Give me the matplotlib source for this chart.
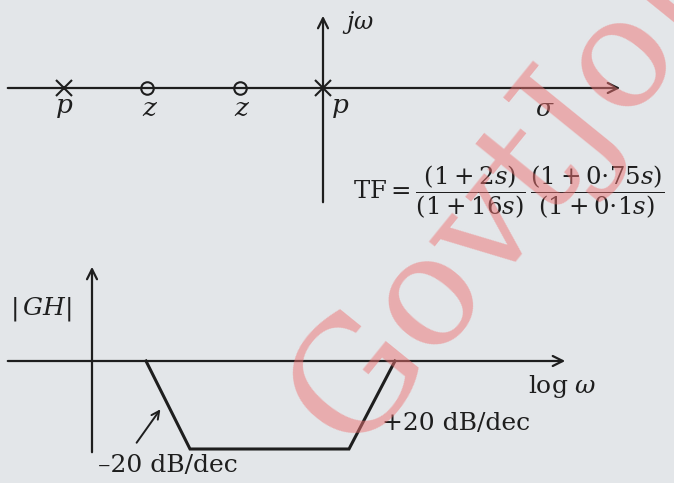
import matplotlib
matplotlib.use('Agg')
import matplotlib.pyplot as plt

plt.rcParams['mathtext.fontset'] = 'dejavuserif'
plt.rcParams['font.family'] = ['DejaVu Serif']

# s-plane diagram (pixel-like sketch units)
real_axis_y = 88
imag_axis_x = 323
pole_x = [64, 323]
zero_x = [147, 240]
pz_labels = ['p', 'z', 'z', 'p']
pz_label_x = [64, 150, 242, 340]

# Bode magnitude asymptote sketch
mag_axis_x = 92
freq_axis_y = 361
bode_x = [146, 190, 349, 395]
bode_y = [361, 449, 449, 361]

ink = '#1e1e1e'
bg = '#e3e6e9'

fig = plt.figure(figsize=(6.74, 4.83), dpi=100, facecolor=bg)
ax = fig.add_axes([0, 0, 1, 1])
ax.set_xlim(0, 674)
ax.set_ylim(483, 0)
ax.set_facecolor(bg)
ax.axis('off')

arrow = dict(arrowstyle='->', color=ink, lw=1.6, mutation_scale=18)

# watermark
ax.text(352, 454, 'GovtJobs', fontsize=112, color='#ef7373', alpha=0.5,
        rotation=51, rotation_mode='anchor', ha='left', va='baseline',
        family='DejaVu Serif', clip_on=True, zorder=5)

# s-plane axes
ax.annotate('', xy=(623, real_axis_y), xytext=(5, real_axis_y), arrowprops=arrow)
ax.annotate('', xy=(imag_axis_x, 13), xytext=(imag_axis_x, 205), arrowprops=arrow)
ax.text(358, 22, r'$j\omega$', fontsize=17, color=ink, va='center', ha='center')
ax.text(545, 109, r'$\sigma$', fontsize=18, color=ink, va='center', ha='center')

ax.plot(pole_x, [real_axis_y] * len(pole_x), 'x', color=ink, ms=11, mew=1.5)
ax.plot(zero_x, [real_axis_y] * len(zero_x), 'o', color=ink, mfc=bg, ms=9, mew=1.5)
for lab, x in zip(pz_labels, pz_label_x):
    ax.text(x, 108, '$' + lab + '$', fontsize=19, color=ink, ha='center', va='center')

ax.text(353, 192,
        r'$\mathrm{TF} = \dfrac{(1+2s)}{(1+16s)}\,\dfrac{(1+0{\cdot}75s)}{(1+0{\cdot}1s)}$',
        fontsize=17.6, color=ink, ha='left', va='center')

# Bode axes
ax.annotate('', xy=(mag_axis_x, 264), xytext=(mag_axis_x, 455), arrowprops=arrow)
ax.annotate('', xy=(568, freq_axis_y), xytext=(5, freq_axis_y), arrowprops=arrow)
ax.text(41, 309, r'$|\,GH|$', fontsize=18, color=ink, va='center', ha='center')
ax.text(562, 386, r'$\log\,\omega$', fontsize=18, color=ink, va='center', ha='center')

ax.plot(bode_x, bode_y, color=ink, lw=2.2, solid_joinstyle='miter')

ax.annotate('', xy=(162, 407), xytext=(135, 445),
            arrowprops=dict(arrowstyle='->', color=ink, lw=1.4, mutation_scale=14))
ax.text(98, 465, '\u201320 dB/dec', fontsize=18, color=ink, va='center', ha='left')
ax.text(382, 423, '+20 dB/dec', fontsize=18, color=ink, va='center', ha='left')

fig.savefig('out.png', dpi=100, facecolor=bg)
